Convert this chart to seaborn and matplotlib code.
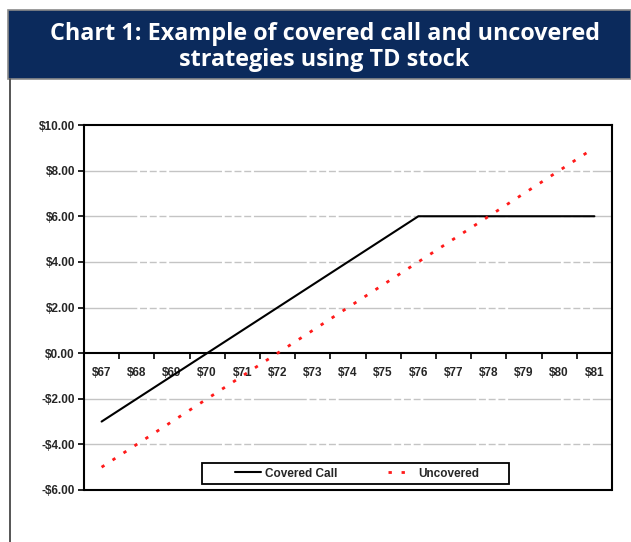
import matplotlib
matplotlib.use("Agg")
import matplotlib.pyplot as plt
from matplotlib.patches import Rectangle
from matplotlib.lines import Line2D
import seaborn as sns
import pandas as pd
import numpy as np

# ---- data ----
prices = [67, 68, 69, 70, 71, 72, 73, 74, 75, 76, 77, 78, 79, 80, 81]
covered_call = [-3, -2, -1, 0, 1, 2, 3, 4, 5, 6, 6, 6, 6, 6, 6]
uncovered = [-5, -4, -3, -2, -1, 0, 1, 2, 3, 4, 5, 6, 7, 8, 9]
price_labels = [f"${p}" for p in prices]
y_ticks = [-6, -4, -2, 0, 2, 4, 6, 8, 10]
y_labels = ["-$6.00", "-$4.00", "-$2.00", "$0.00", "$2.00", "$4.00", "$6.00", "$8.00", "$10.00"]
title = "Chart 1: Example of covered call and uncovered\nstrategies using TD stock"

sns.set_theme(style="white")
plt.rcParams['font.family'] = ['Liberation Sans', 'DejaVu Sans']

W, H = 631, 542
fig = plt.figure(figsize=(W / 100, H / 100), dpi=100)

# header band
fig.patches.append(Rectangle((8 / W, 1 - 79 / H), 1 - 8 / W, 69 / H, transform=fig.transFigure,
                             facecolor="#0b2a5c", edgecolor="#8a8a8a", linewidth=1.2, zorder=0))
fig.text(324.5 / W, 1 - 47 / H, title, color="white", ha="center", va="center",
         fontsize=16.8, fontweight="bold", family=["Open Sans", "DejaVu Sans"], linespacing=1.15)
# left border of box
fig.lines.append(Line2D([10 / W, 10 / W], [0, 1 - 79 / H], transform=fig.transFigure,
                        color="#555555", linewidth=1.4))

ax = fig.add_axes([84 / W, 1 - 490 / H, 528 / W, 365 / H])
pos = np.arange(len(prices))
df = pd.DataFrame({"pos": pos, "Covered Call": covered_call, "Uncovered": uncovered})

sns.lineplot(data=df, x="pos", y="Covered Call", ax=ax, color="black", linewidth=1.5,
             label="Covered Call", zorder=3)
sns.lineplot(data=df, x="pos", y="Uncovered", ax=ax, color="#ff1a1a", linewidth=2.0,
             linestyle=(0, (1.2, 3.5)), label="Uncovered", zorder=3)

ax.set_xlim(-0.5, len(prices) - 0.5)
ax.set_ylim(-6, 10)
ax.set_xlabel("")
ax.set_ylabel("")

# gridlines
for yv in [-4, -2, 2, 4, 6, 8]:
    ax.axhline(yv, color="#c4c4c4", linewidth=1.0, linestyle=(0, (38, 2, 5, 2, 5, 2, 5, 2)), zorder=1)

# spines
for s in ["left", "right", "top"]:
    ax.spines[s].set_visible(True)
    ax.spines[s].set_color("black")
    ax.spines[s].set_linewidth(1.5)
ax.spines["bottom"].set_position(("data", 0))
ax.spines["bottom"].set_color("black")
ax.spines["bottom"].set_linewidth(1.5)
ax.add_line(Line2D([0, 1], [0, 0], transform=ax.transAxes, color="black", linewidth=1.5, clip_on=False))

# y ticks
ax.set_yticks(y_ticks)
ax.set_yticklabels(y_labels, fontsize=8.5, fontweight="bold")
ax.tick_params(axis="y", direction="out", length=4, width=1.2, color="black", pad=2.5, left=True)

# x ticks: marks at boundaries, labels at centers
ax.set_xticks(np.arange(len(prices)) + 0.5)
ax.set_xticklabels([])
ax.set_xticks(pos, minor=True)
ax.set_xticklabels(price_labels, minor=True, fontsize=8.5, fontweight="bold")
ax.tick_params(axis="x", which="major", direction="out", length=4, width=1.2, color="black", bottom=True)
ax.tick_params(axis="x", which="minor", length=0, pad=10, bottom=True)

# legend (box drawn separately to match the wide padding)
leg = ax.legend(loc="center", bbox_to_anchor=(0.517, 0.045), ncol=2, fontsize=8.5,
                frameon=False, columnspacing=4.3, handlelength=2.2, handletextpad=0.35)
for t in leg.get_texts():
    t.set_fontweight("bold")
ax.add_patch(Rectangle(((202 - 84) / 528, (490 - 484) / 365), (509 - 202) / 528, 21 / 365,
                       transform=ax.transAxes, facecolor="none", edgecolor="black",
                       linewidth=1.3, zorder=5, clip_on=False))

fig.savefig("out.png", dpi=100, facecolor="white")
